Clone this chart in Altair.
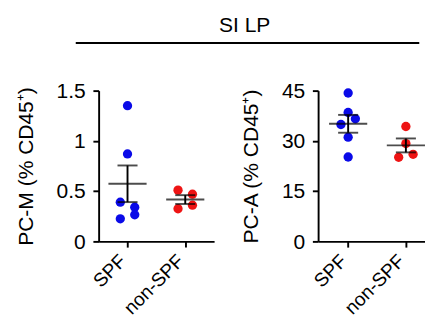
import altair as alt
import pandas as pd

groups = ["SPF", "non-SPF"]
group_index = [0, 1]

# PC-M (% CD45+)
pcm_spf = [1.35, 0.87, 0.39, 0.34, 0.265, 0.225]
pcm_spf_side = [0, 0, -1, 1, 1, -1]
pcm_non = [0.51, 0.47, 0.36, 0.325]
pcm_non_side = [-1, 1, 1, -1]

# PC-A (% CD45+)
pca_spf = [44.3, 38.5, 36.6, 34.9, 31.1, 25.2]
pca_spf_side = [0, 0, 1, -1, 0, 0]
pca_non = [34.3, 29.2, 25.1, 26.0]
pca_non_side = [0, 0, -1, 1]

pcm_ticks = [0, 0.5, 1, 1.5]
pca_ticks = [0, 15, 30, 45]

BLUE = "#0a0ae8"
RED = "#ee1414"
FONT = "Liberation Sans"
FS = 22
XFS = 20


def make_df(spf, spf_side, non, non_side):
    rows = []
    for v, s in zip(spf, spf_side):
        rows.append({"group": groups[0], "gi": group_index[0], "value": v, "side": s})
    for v, s in zip(non, non_side):
        rows.append({"group": groups[1], "gi": group_index[1], "value": v, "side": s})
    return pd.DataFrame(rows)


def panel(df, ytitle, yticks, width, xmin, xmax):
    xs = alt.Scale(domain=[xmin, xmax], nice=False, zero=False)
    ys = alt.Scale(domain=[yticks[0], yticks[-1]], nice=False)
    xaxis = alt.Axis(values=group_index,
                     labelExpr="datum.value == 0 ? 'SPF' : 'non-SPF'",
                     labelAngle=-45, labelAlign="right", labelBaseline="middle",
                     labelPadding=11, labelOffset=-5, labelFontSize=XFS)
    yaxis = alt.Axis(values=yticks, labelExpr="'' + datum.value",
                     titlePadding=20, labelPadding=8)

    def X(field):
        return alt.X(field, type="quantitative", scale=xs, axis=xaxis, title=None)

    def Y(field):
        return alt.Y(field, type="quantitative", scale=ys, axis=yaxis, title=ytitle)

    base = alt.Chart(df)
    points = base.transform_calculate(
        xj="datum.gi + datum.side * 0.125"
    ).mark_circle(size=95, opacity=1).encode(
        x=X("xj"),
        y=Y("value"),
        color=alt.Color("group:N", scale=alt.Scale(domain=groups, range=[BLUE, RED]), legend=None),
    )
    stats = base.transform_aggregate(
        mean="mean(value)", se="stderr(value)", groupby=["group", "gi"]
    ).transform_calculate(lo="datum.mean - datum.se", hi="datum.mean + datum.se")
    vline = stats.mark_rule(strokeWidth=2, color="black").encode(
        x=X("gi"), y=Y("lo"), y2="hi:Q")
    mean_tick = stats.mark_tick(orient="horizontal", size=40, thickness=2, color="black").encode(
        x=X("gi"), y=Y("mean"))
    lo_tick = stats.mark_tick(orient="horizontal", size=21, thickness=2, color="black").encode(
        x=X("gi"), y=Y("lo"))
    hi_tick = stats.mark_tick(orient="horizontal", size=21, thickness=2, color="black").encode(
        x=X("gi"), y=Y("hi"))
    return alt.layer(points, vline, mean_tick, lo_tick, hi_tick).properties(width=width, height=158)


left = panel(make_df(pcm_spf, pcm_spf_side, pcm_non, pcm_non_side),
             "PC-M (% CD45⁺)", pcm_ticks, 121, -0.5, 1.5)
right = panel(make_df(pca_spf, pca_spf_side, pca_non, pca_non_side),
              "PC-A (% CD45⁺)", pca_ticks, 112, -0.52, 1.331)

hdr_df = pd.DataFrame({"label": ["SI LP"]})
hdr_text = alt.Chart(hdr_df).mark_text(font=FONT, fontSize=FS, color="black").encode(
    text="label:N", x=alt.value(153), y=alt.value(8))
hdr_rule = alt.Chart(hdr_df).mark_rule(color="black", strokeWidth=2).encode(
    x=alt.value(-24), x2=alt.value(336), y=alt.value(26))
header = alt.layer(hdr_text, hdr_rule).properties(width=300, height=37)

chart = alt.vconcat(
    header,
    alt.hconcat(left, right, spacing=27),
    spacing=28,
).properties(
    padding={"left": 7, "top": 0, "right": 0, "bottom": 0}
).configure_view(stroke=None).configure_axis(
    labelFont=FONT, titleFont=FONT, labelFontSize=FS, titleFontSize=FS,
    titleFontWeight="normal", labelColor="black", titleColor="black",
    domainColor="black", tickColor="black", domainWidth=2, tickWidth=2,
    tickSize=6, grid=False,
)

chart.save("out.html", embed_options={"renderer": "svg", "actions": False})
